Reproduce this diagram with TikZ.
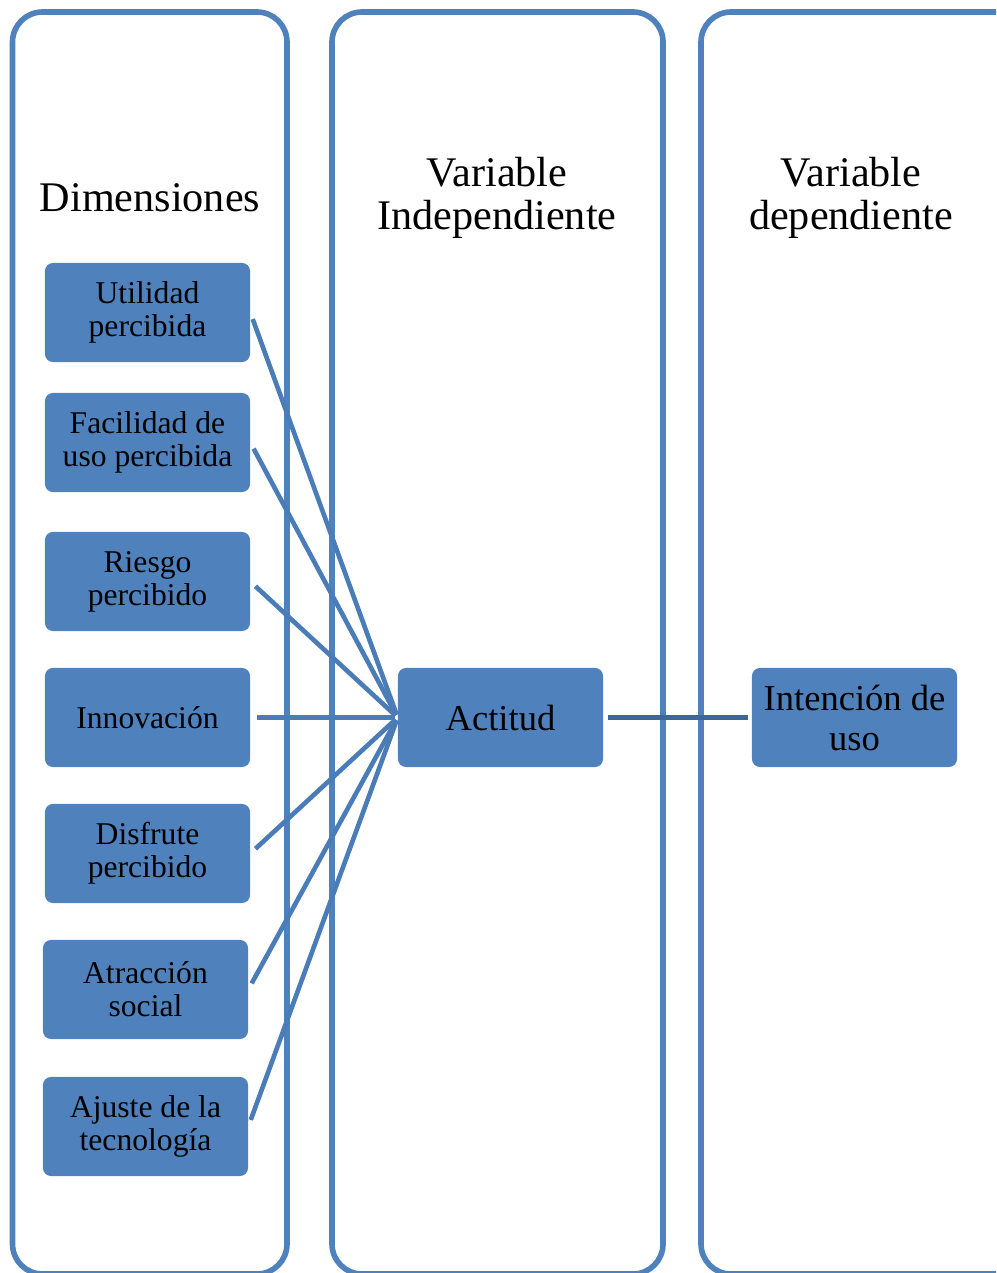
\documentclass[tikz,border=0pt]{standalone}
\usepackage{fontspec}
\setmainfont{Liberation Serif}
\usetikzlibrary{calc}

\definecolor{boxblue}{RGB}{79,129,189}
\definecolor{linkblue}{RGB}{74,124,184}
\definecolor{darkblue}{RGB}{62,103,153}

\tikzset{
  column/.style={draw=boxblue, line width=4pt, rounded corners=0.75cm},
  dimbox/.style={fill=boxblue, rounded corners=0.2cm, minimum width=5.125cm,
    minimum height=2.475cm, align=center, inner sep=1pt,
    font=\fontsize{22.5}{23.5}\selectfont},
  varbox/.style={dimbox, font=\fontsize{26}{28.5}\selectfont},
  title/.style={align=center, font=\fontsize{30}{31}\selectfont},
  link/.style={draw=linkblue, line width=3.3pt, shorten <=0.175cm, shorten >=0.075cm},
  mainlink/.style={draw=darkblue, line width=3.8pt, shorten <=0.125cm, shorten >=0.1cm}
}

\begin{document}
\begin{tikzpicture}[x=0.025cm,y=-0.025cm]
    \clip (0,0) rectangle (996,1273);

    % draw columns
    \draw[column] (12.5,12) rectangle (287,1274);
    \draw[column] (332,12) rectangle (663,1274);
    \draw[column] (701,12) rectangle (1035,1274);

    % draw titles
    \node[title] (tdim) at (150,198) {Dimensiones};
    \node[title] (tind) at (497,198) {Variable\\Independiente};
    \node[title] (tdep) at (851,198) {Variable\\dependiente};

    % draw dimensions
    \node[dimbox] (util) at (147.5,312.5) {Utilidad\\percibida};
    \node[dimbox] (faci) at (147.5,442.5) {Facilidad de\\uso percibida};
    \node[dimbox] (ries) at (147.5,581.5) {Riesgo\\percibido};
    \node[dimbox] (inno) at (147.5,717.5) {Innovación};
    \node[dimbox] (disf) at (147.5,853.5) {Disfrute\\percibido};
    \node[dimbox] (atra) at (145.5,989.5) {Atracción\\social};
    \node[dimbox] (ajus) at (145.5,1126.5) {Ajuste de la\\tecnología};

    % draw variables
    \node[varbox] (acti) at (500.5,717.5) {Actitud};
    \node[varbox] (inte) at (854.5,717.5) {Intención de\\uso};

    % draw connections
    \foreach \n in {util,faci,ries,inno,disf,atra,ajus}
    \draw[link] (\n.east) -- (acti.west);
    \draw[mainlink] (acti.east) -- (inte.west);

\end{tikzpicture}
\end{document}
